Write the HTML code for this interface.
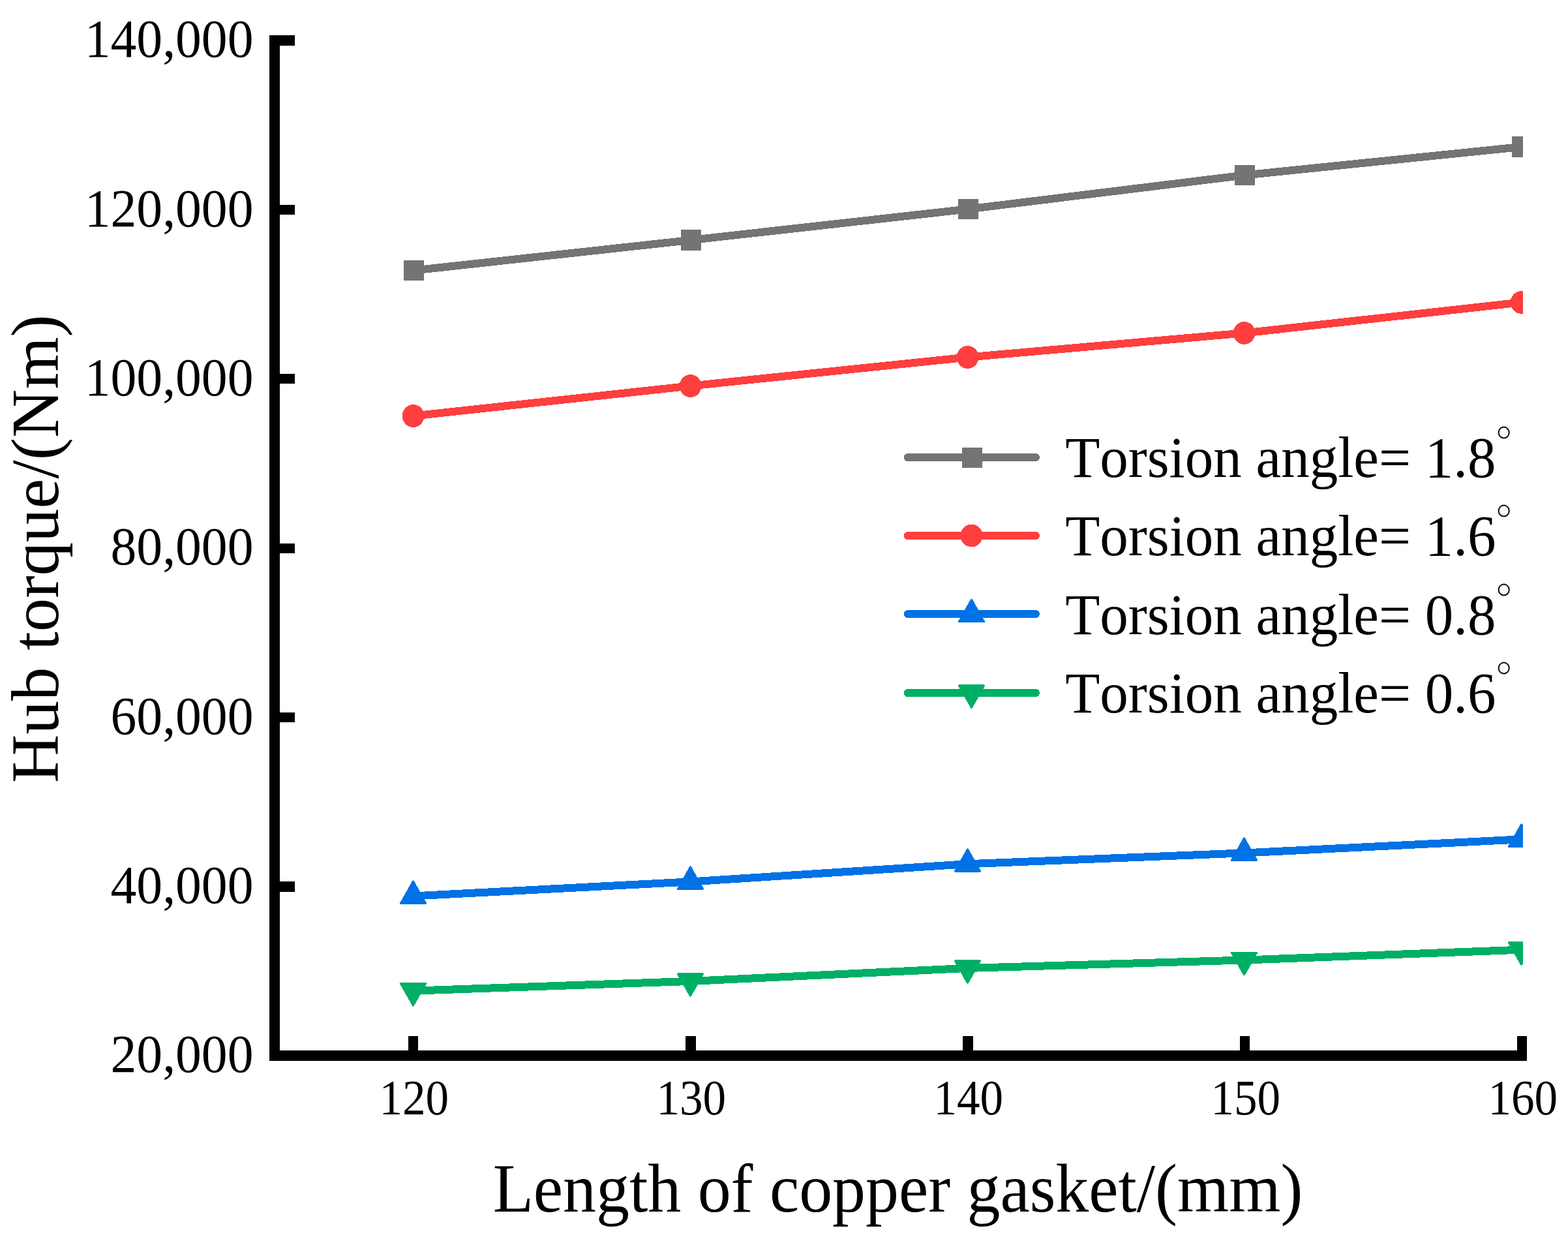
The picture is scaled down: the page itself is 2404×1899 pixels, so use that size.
<!DOCTYPE html>
<html lang="en">
<head>
<meta charset="utf-8">
<title>Hub torque vs. length of copper gasket</title>
<style>
html,body{margin:0;padding:0;background:#fff;}
body{width:2404px;height:1899px;overflow:hidden;}
svg{display:block;}
text{font-family:"Liberation Serif","DejaVu Serif",serif;font-size:100px;fill:#000;font-kerning:none;font-variant-ligatures:none;}
</style>
</head>
<body>
<svg width="2404" height="1899" viewBox="0 0 2404 1899" role="img" aria-label="Hub torque versus length of copper gasket for four torsion angles">
<rect x="0" y="0" width="2404" height="1899" fill="#fff"/>
<defs><clipPath id="plot"><rect x="421" y="0" width="1914" height="1618"/></clipPath></defs>
<g clip-path="url(#plot)" shape-rendering="crispEdges">
<polyline points="634.0,414.5 1059.0,368.0 1484.0,320.5 1908.0,268.5 2333.0,225.0" fill="none" stroke="#747474" stroke-width="12" stroke-linejoin="round"/>
<rect x="619" y="399" width="31" height="31" fill="#747474"/>
<rect x="1044" y="352" width="31" height="32" fill="#747474"/>
<rect x="1469" y="305" width="31" height="31" fill="#747474"/>
<rect x="1893" y="253" width="31" height="31" fill="#747474"/>
<rect x="2318" y="209" width="31" height="32" fill="#747474"/>
<polyline points="634.0,637.5 1059.0,591.5 1484.0,547.5 1908.0,510.4 2333.0,463.4" fill="none" stroke="#FF3E3E" stroke-width="12" stroke-linejoin="round"/>
<ellipse cx="633.6" cy="637.5" rx="16.9" ry="17.4" fill="#FF3E3E"/>
<ellipse cx="1058.6" cy="591.5" rx="16.9" ry="17.4" fill="#FF3E3E"/>
<ellipse cx="1483.6" cy="547.5" rx="16.9" ry="17.4" fill="#FF3E3E"/>
<ellipse cx="1907.6" cy="510.4" rx="16.9" ry="17.4" fill="#FF3E3E"/>
<ellipse cx="2332.6" cy="463.4" rx="16.9" ry="17.4" fill="#FF3E3E"/>
<polyline points="634.0,1373.4 1059.0,1351.4 1484.0,1324.2 1908.0,1307.4 2333.0,1286.4" fill="none" stroke="#0072E5" stroke-width="12" stroke-linejoin="round"/>
<polygon points="633.5,1351.0 652.5,1384.5 614.5,1384.5" fill="#0072E5" stroke="#0072E5" stroke-width="3.0" stroke-linejoin="round"/>
<polygon points="1058.5,1329.0 1077.5,1362.5 1039.5,1362.5" fill="#0072E5" stroke="#0072E5" stroke-width="3.0" stroke-linejoin="round"/>
<polygon points="1483.5,1301.8 1502.5,1335.3 1464.5,1335.3" fill="#0072E5" stroke="#0072E5" stroke-width="3.0" stroke-linejoin="round"/>
<polygon points="1907.5,1285.0 1926.5,1318.5 1888.5,1318.5" fill="#0072E5" stroke="#0072E5" stroke-width="3.0" stroke-linejoin="round"/>
<polygon points="2332.5,1264.0 2351.5,1297.5 2313.5,1297.5" fill="#0072E5" stroke="#0072E5" stroke-width="3.0" stroke-linejoin="round"/>
<polyline points="634.0,1518.6 1059.0,1503.9 1484.0,1483.9 1908.0,1471.5 2333.0,1455.7" fill="none" stroke="#00AF66" stroke-width="12" stroke-linejoin="round"/>
<polygon points="633.5,1541.0 652.5,1507.5 614.5,1507.5" fill="#00AF66" stroke="#00AF66" stroke-width="3.0" stroke-linejoin="round"/>
<polygon points="1058.5,1526.3 1077.5,1492.8 1039.5,1492.8" fill="#00AF66" stroke="#00AF66" stroke-width="3.0" stroke-linejoin="round"/>
<polygon points="1483.5,1506.3 1502.5,1472.8 1464.5,1472.8" fill="#00AF66" stroke="#00AF66" stroke-width="3.0" stroke-linejoin="round"/>
<polygon points="1907.5,1493.9 1926.5,1460.4 1888.5,1460.4" fill="#00AF66" stroke="#00AF66" stroke-width="3.0" stroke-linejoin="round"/>
<polygon points="2332.5,1478.1 2351.5,1444.6 2313.5,1444.6" fill="#00AF66" stroke="#00AF66" stroke-width="3.0" stroke-linejoin="round"/>
</g>
<g fill="#000">
<rect x="413" y="54" width="16" height="1572"/>
<rect x="413" y="1610" width="1928" height="16"/>
<rect x="413" y="54" width="39" height="16"/>
<rect x="413" y="314" width="39" height="15"/>
<rect x="413" y="573" width="39" height="15"/>
<rect x="413" y="833" width="39" height="15"/>
<rect x="413" y="1092" width="39" height="15"/>
<rect x="413" y="1351" width="39" height="16"/>
<rect x="413" y="1610" width="39" height="16"/>
<rect x="626" y="1588" width="15" height="30"/>
<rect x="1051" y="1588" width="16" height="30"/>
<rect x="1476" y="1588" width="16" height="30"/>
<rect x="1901" y="1588" width="15" height="30"/>
<rect x="2326" y="1588" width="15" height="30"/>
</g>
<g>
<text transform="translate(129.73,87.28) scale(0.7962,0.8193)">140,000</text>
<text transform="translate(129.73,346.61) scale(0.7962,0.8193)">120,000</text>
<text transform="translate(129.73,605.95) scale(0.7962,0.8193)">100,000</text>
<text transform="translate(169.54,865.28) scale(0.7962,0.8193)">80,000</text>
<text transform="translate(169.54,1124.61) scale(0.7962,0.8193)">60,000</text>
<text transform="translate(169.54,1383.95) scale(0.7962,0.8193)">40,000</text>
<text transform="translate(169.54,1643.28) scale(0.7962,0.8193)">20,000</text>
</g>
<g>
<text transform="translate(581.44,1708.24) scale(0.7117,0.7585)">120</text>
<text transform="translate(1006.44,1708.24) scale(0.7117,0.7585)">130</text>
<text transform="translate(1431.44,1708.24) scale(0.7117,0.7585)">140</text>
<text transform="translate(1856.44,1708.24) scale(0.7117,0.7585)">150</text>
<text transform="translate(2281.44,1708.24) scale(0.7117,0.7585)">160</text>
</g>
<text transform="translate(755.64,1856.80) scale(1.0188,1.0538)">Length of copper gasket/(mm)</text>
<text transform="translate(89.00,1199.89) rotate(-90) scale(1.0296,1.0443)">Hub torque/(Nm)</text>
<g>
<line x1="1391.8" y1="701.1" x2="1588" y2="701.1" stroke="#747474" stroke-width="12" stroke-linecap="round" shape-rendering="crispEdges"/>
<rect x="1475" y="686" width="31" height="31" fill="#747474" shape-rendering="crispEdges"/>
<text transform="translate(1633.16,731.20) scale(0.8701,0.8938)">Torsion angle= 1.8<tspan x="758.36" y="-38.38" font-size="73px" stroke="#fff" stroke-width="1.38">°</tspan></text>
<line x1="1391.8" y1="821.1" x2="1588" y2="821.1" stroke="#FF3E3E" stroke-width="12" stroke-linecap="round" shape-rendering="crispEdges"/>
<ellipse cx="1489.6" cy="821.0" rx="16.9" ry="17.4" fill="#FF3E3E" shape-rendering="crispEdges"/>
<text transform="translate(1633.16,851.40) scale(0.8702,0.8938)">Torsion angle= 1.6<tspan x="758.33" y="-38.61" font-size="73px" stroke="#fff" stroke-width="1.38">°</tspan></text>
<line x1="1391.8" y1="941.1" x2="1588" y2="941.1" stroke="#0072E5" stroke-width="12" stroke-linecap="round" shape-rendering="crispEdges"/>
<polygon points="1489.5,919.2 1508.5,952.7 1470.5,952.7" fill="#0072E5" stroke="#0072E5" stroke-width="3.0" stroke-linejoin="round" shape-rendering="crispEdges"/>
<text transform="translate(1633.16,971.60) scale(0.8701,0.8938)">Torsion angle= 0.8<tspan x="758.36" y="-37.82" font-size="73px" stroke="#fff" stroke-width="1.38">°</tspan></text>
<line x1="1391.8" y1="1062.1" x2="1588" y2="1062.1" stroke="#00AF66" stroke-width="12" stroke-linecap="round" shape-rendering="crispEdges"/>
<polygon points="1489.5,1084.4 1508.5,1050.9 1470.5,1050.9" fill="#00AF66" stroke="#00AF66" stroke-width="3.0" stroke-linejoin="round" shape-rendering="crispEdges"/>
<text transform="translate(1633.16,1091.80) scale(0.8702,0.8938)">Torsion angle= 0.6<tspan x="758.33" y="-37.82" font-size="73px" stroke="#fff" stroke-width="1.38">°</tspan></text>
</g>
</svg>
</body>
</html>
